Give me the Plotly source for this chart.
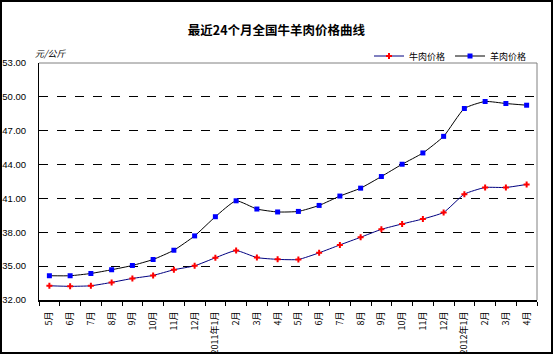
import plotly.graph_objects as go

months = ["5月","6月","7月","8月","9月","10月","11月","12月","2011年1月","2月","3月","4月",
          "5月","6月","7月","8月","9月","10月","11月","12月","2012年1月","2月","3月","4月"]
beef = [33.26,33.21,33.26,33.56,33.91,34.18,34.68,35.03,35.74,36.38,35.76,35.60,
        35.59,36.18,36.88,37.56,38.26,38.74,39.18,39.76,41.38,41.97,41.97,42.24]
mutton = [34.15,34.15,34.35,34.68,35.06,35.59,36.41,37.68,39.38,40.79,40.06,39.80,
          39.85,40.38,41.21,41.91,42.94,44.03,45.03,46.50,48.97,49.59,49.41,49.26]
yticks = [32, 35, 38, 41, 44, 47, 50, 53]

x = list(range(len(months)))
font = "Noto Sans CJK SC, Liberation Sans, sans-serif"

fig = go.Figure()
fig.add_trace(go.Scatter(x=x, y=beef, name="牛肉价格", mode="lines+markers",
                         line=dict(color="#000080", width=1, shape="spline", smoothing=0.5),
                         marker=dict(symbol="cross", size=5, color="#ff0000")))
fig.add_trace(go.Scatter(x=x, y=mutton, name="羊肉价格", mode="lines+markers",
                         line=dict(color="#000000", width=1, shape="spline", smoothing=0.5),
                         marker=dict(symbol="square", size=5, color="#0000ff")))

W, H = 553, 354
L, R, T, B = 39, 16, 63, 54
pw, ph = W - L - R, H - T - B

def px(xp):
    return (xp - L) / pw

def py(yp):
    return (H - B - yp) / ph

fig.update_layout(
    width=W, height=H,
    margin=dict(l=L, r=R, t=T, b=B, autoexpand=False),
    paper_bgcolor="white", plot_bgcolor="white",
    font=dict(family=font, size=9, color="black"),
    title=dict(text="<b>最近24个月全国牛羊肉价格曲线</b>", x=0.5, xref="container", xanchor="center",
               y=1 - 31 / H, yref="container", yanchor="middle",
               font=dict(size=12.5, family=font, color="black")),
    showlegend=True,
    legend=dict(orientation="h", x=px(532), xanchor="right", y=py(56), yanchor="middle",
                font=dict(size=9, family=font), itemwidth=30, bgcolor="rgba(0,0,0,0)",
                tracegroupgap=0),
    xaxis=dict(range=[-0.5, 23.5], tickmode="array", tickvals=x, ticktext=months,
               tickangle=-90, ticks="", showgrid=False, zeroline=False,
               showline=True, linecolor="black", linewidth=2, automargin=False,
               ticklabelstandoff=6,
               minor=dict(ticks="outside", tick0=-0.5, dtick=1, ticklen=4,
                          tickcolor="black", showgrid=False),
               tickfont=dict(size=9, family=font), fixedrange=True),
    yaxis=dict(range=[32, 53], tickmode="array", tickvals=yticks,
               ticktext=[f"{v:.2f}" for v in yticks], automargin=False,
               showgrid=True, gridcolor="black", griddash="dash", gridwidth=1,
               zeroline=False, showline=True, linecolor="black", linewidth=1,
               ticks="", ticklabelstandoff=10,
               tickfont=dict(size=9.5, family="Liberation Sans, sans-serif"), fixedrange=True),
    shapes=[
        dict(type="line", xref="paper", yref="paper", x0=0, x1=1, y0=1, y1=1,
             line=dict(color="#808080", width=1)),
        dict(type="line", xref="paper", yref="paper", x0=1, x1=1, y0=0, y1=1,
             line=dict(color="#808080", width=1)),
        dict(type="rect", xref="paper", yref="paper",
             x0=px(1), x1=px(552), y0=py(353), y1=py(1),
             line=dict(color="black", width=2), fillcolor="rgba(0,0,0,0)"),
    ],
    annotations=[
        dict(text="<i>元/公斤</i>", xref="paper", yref="paper", x=px(33), xanchor="left",
             y=py(53), yanchor="middle", showarrow=False, font=dict(size=9, family=font)),
    ],
)

fig.write_html("out.html")
